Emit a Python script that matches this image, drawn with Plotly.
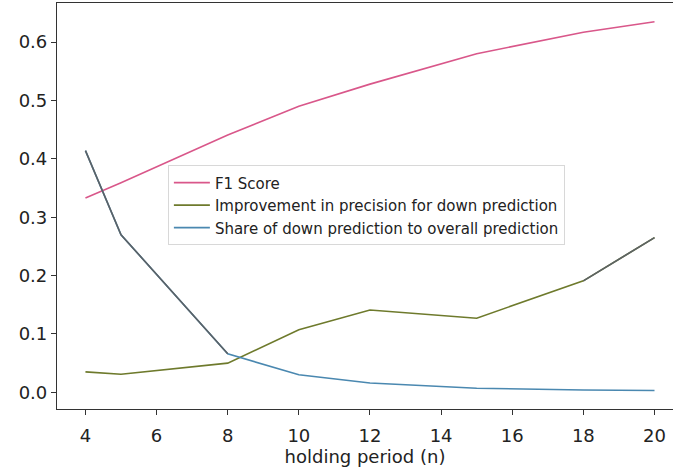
import plotly.graph_objects as go

holding_period = [4, 5, 8, 10, 12, 15, 18, 20]
f1_score = [0.333, 0.359, 0.441, 0.490, 0.528, 0.580, 0.617, 0.635]
improvement = [0.035, 0.031, 0.050, 0.107, 0.141, 0.127, 0.191, 0.265]
share_down = [0.414, 0.270, 0.066, 0.030, 0.016, 0.007, 0.004, 0.003]

x_ticks = [4, 6, 8, 10, 12, 14, 16, 18, 20]
y_ticks = [0.0, 0.1, 0.2, 0.3, 0.4, 0.5, 0.6]

PINK = "#d9578a"
OLIVE = "#6e7a2c"
BLUE = "#4a88b0"
GRAY = "#5c6266"

fig = go.Figure()
fig.add_trace(go.Scatter(x=holding_period, y=f1_score, mode="lines", name="F1 Score",
                         line=dict(color=PINK, width=1.6)))
fig.add_trace(go.Scatter(x=holding_period, y=improvement, mode="lines",
                         name="Improvement in precision for down prediction",
                         line=dict(color=OLIVE, width=1.6)))
fig.add_trace(go.Scatter(x=holding_period, y=share_down, mode="lines",
                         name="Share of down prediction to overall prediction",
                         line=dict(color=BLUE, width=1.6)))
# grey-looking segments seen in the reference
fig.add_trace(go.Scatter(x=holding_period[:3], y=share_down[:3], mode="lines", showlegend=False,
                         line=dict(color=GRAY, width=1.6)))
fig.add_trace(go.Scatter(x=holding_period[-2:], y=improvement[-2:], mode="lines", showlegend=False,
                         line=dict(color=GRAY, width=1.6)))

font = "DejaVu Sans, sans-serif"
fig.update_layout(
    width=673, height=470,
    margin=dict(l=57, r=0, t=3, b=61),
    paper_bgcolor="white", plot_bgcolor="white",
    font=dict(family=font, size=18, color="#222"),
    legend=dict(x=0.18, y=0.60, xanchor="left", yanchor="top",
                bgcolor="rgba(255,255,255,0.85)", bordercolor="#d8d8d8", borderwidth=1,
                font=dict(size=15, color="#222"), itemwidth=36, tracegroupgap=0),
    xaxis=dict(range=[3.2, 20.52], tickvals=x_ticks, ticks="outside", ticklen=5,
               tickcolor="#333", showline=True, linecolor="#333", linewidth=1.2,
               mirror=True, showgrid=False, zeroline=False, ticklabelstandoff=5,
               title=dict(text="holding period (n)", font=dict(size=18), standoff=2)),
    yaxis=dict(range=[-0.0286, 0.667], tickvals=y_ticks, tickformat=".1f",
               ticks="outside", ticklen=5, tickcolor="#333", showline=True,
               linecolor="#333", linewidth=1.2, mirror=False, showgrid=False,
               zeroline=False),
)
fig.write_html("out.html")
